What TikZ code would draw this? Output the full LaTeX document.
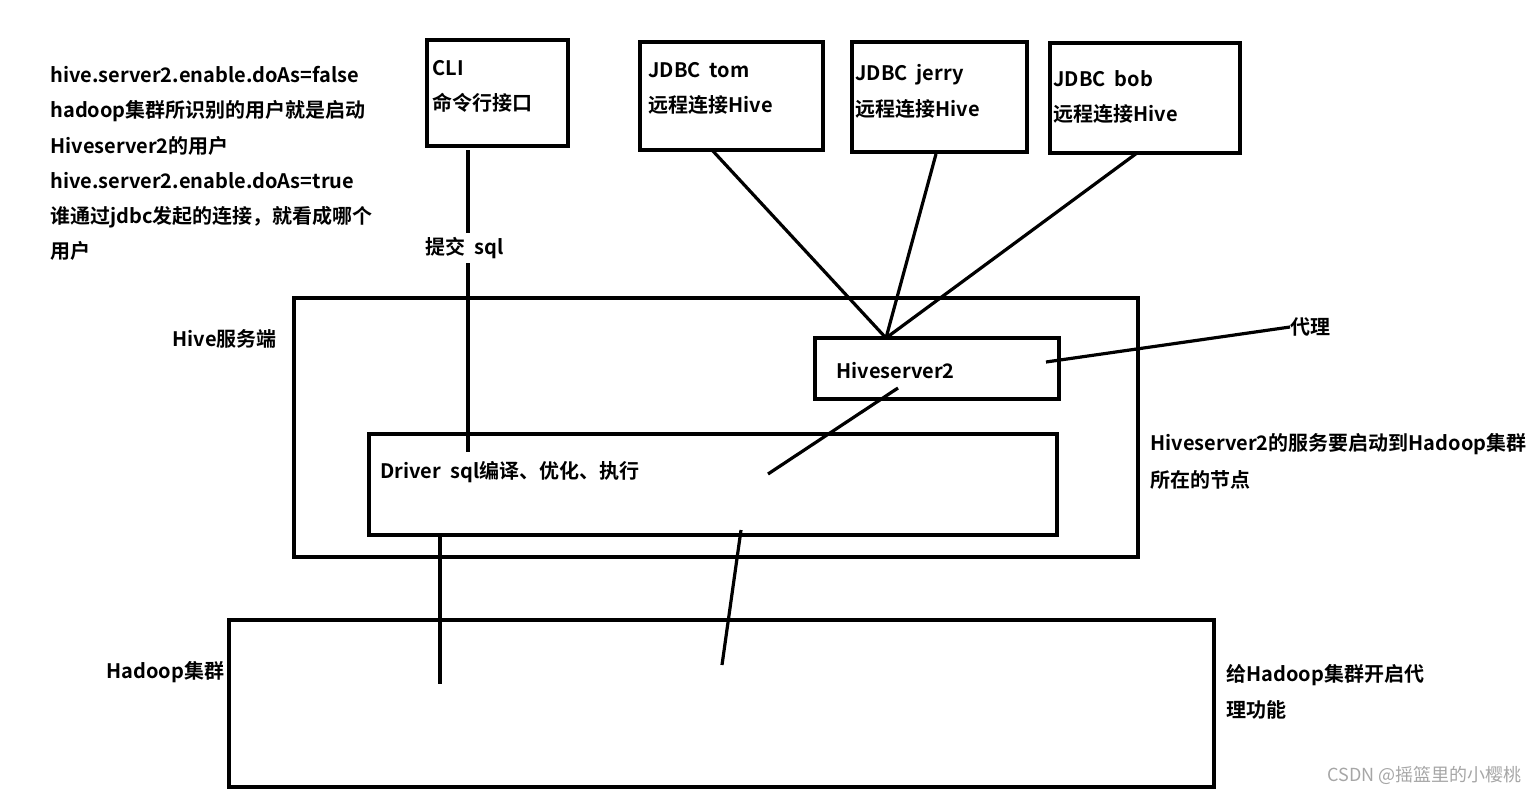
\documentclass[tikz,border=0pt]{standalone}
\usepackage{fontspec}
\setmainfont{Noto Sans CJK SC}[BoldFont={Noto Sans CJK SC Bold}]
\begin{document}
\begin{tikzpicture}[x=0.5pt,y=-0.5pt,
  box/.style={draw,line width=1.6pt},
  ln/.style={line width=1.6pt},
  t/.style={anchor=west,inner sep=0pt,font=\fontsize{10pt}{12pt}\selectfont\bfseries,align=left}]
\useasboundingbox (0,0) rectangle (1537,794);
\draw[box] (427,40) rectangle (568,146);
\draw[box] (640,42) rectangle (823,150);
\draw[box] (852,42) rectangle (1027,152);
\draw[box] (1050,43) rectangle (1240,153);
\draw[box] (294,298) rectangle (1138,557);
\draw[box] (815,338) rectangle (1059,399);
\draw[box] (369,434) rectangle (1057,535);
\draw[box] (229,620) rectangle (1214,787);
\coordinate (h) at (886,338);
\draw[ln] (468,150) -- (468,452);
\draw[ln] (712,150) -- (h);
\draw[ln] (936,154) -- (h);
\draw[ln] (1137,153) -- (h);
\draw[ln] (1046,362) -- (1290,327);
\draw[ln] (898,388) -- (768,474);
\draw[ln] (440,535) -- (440,684);
\draw[ln] (741,530) -- (722,665);
\node[t] (cli) at (432,68) {CLI};
\node[t] (cli2) at (432,103) {命令行接口};
\node[t] (j1) at (648,70) {JDBC\ \ tom};
\node[t] (j1b) at (648,105) {远程连接Hive};
\node[t] (j2) at (855,75) {JDBC\ \ jerry};
\node[t] (j2b) at (855,109) {远程连接Hive};
\node[t] (j3) at (1053,79) {JDBC\ \ bob};
\node[t] (j3b) at (1053,114) {远程连接Hive};
\node[t,fill=white,inner sep=2pt] (sub) at (421,248) {提交\ \ sql};
\node[t] (hs) at (172,339) {Hive服务端};
\node[t] (hs2) at (836,371) {Hiveserver2};
\node[t] (dr) at (380,472) {Driver\ \ sql编译、优化、执行};
\node[t] (dl) at (1290,327) {代理};
\node[t] (n1) at (1150,444) {Hiveserver2的服务要启动到Hadoop集群};
\node[t] (n2) at (1150,480) {所在的节点};
\node[t] (hd) at (106,672) {Hadoop集群};
\node[t] (g1) at (1226,675) {给Hadoop集群开启代};
\node[t] (g2) at (1226,710) {理功能};
\node[t,align=left,font=\fontsize{10pt}{17.6pt}\selectfont\bfseries,anchor=north west] (note) at (50,66) {hive.server2.enable.doAs=false\\hadoop集群所识别的用户就是启动\\Hiveserver2的用户\\hive.server2.enable.doAs=true\\谁通过jdbc发起的连接，就看成哪个\\用户};
\node[anchor=east,inner sep=0pt,text=gray!70,font=\fontsize{9pt}{10pt}\selectfont] (wm) at (1522,775) {CSDN @摇篮里的小樱桃};
\end{tikzpicture}
\end{document}
